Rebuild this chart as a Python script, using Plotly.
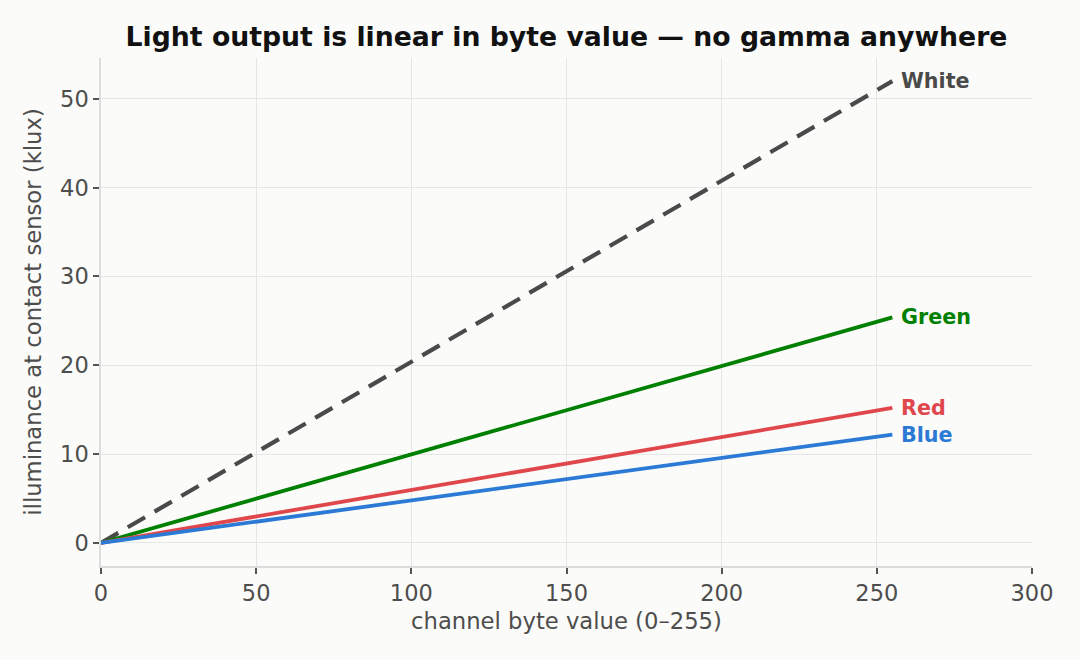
import plotly.graph_objects as go

byte_values = [0, 255]
white = [0, 52.0]
green = [0, 25.4]
red = [0, 15.2]
blue = [0, 12.2]
series_names = ["White", "Green", "Red", "Blue"]
series_values = [white, green, red, blue]
colors = ["#4a4a4a", "#008000", "#e0474c", "#2a7ad6"]
dashes = ["20px,11px", "solid", "solid", "solid"]
widths = [4.2, 3.8, 3.8, 3.8]

x_ticks = [0, 50, 100, 150, 200, 250, 300]
y_ticks = [0, 10, 20, 30, 40, 50]

fig = go.Figure()
for name, vals, c, d, w in zip(series_names, series_values, colors, dashes, widths):
    fig.add_trace(go.Scatter(x=byte_values, y=vals, mode="lines", name=name,
                             line=dict(color=c, width=w, dash=d), showlegend=False))
    fig.add_annotation(x=byte_values[-1], y=vals[-1], text=f"<b>{name}</b>", showarrow=False,
                       xanchor="left", yanchor="middle", xshift=7,
                       font=dict(color=c, size=20.7, family="DejaVu Sans"))

axis_common = dict(showgrid=True, gridcolor="#e6e6e6", gridwidth=1, zeroline=False,
                   showline=True, linecolor="#dddddd", linewidth=1.5,
                   ticks="outside", ticklen=6, tickwidth=1.5, tickcolor="#555555",
                   tickfont=dict(size=22.5, color="#4d4d4d", family="DejaVu Sans"))

fig.update_xaxes(range=[0, 300], tickvals=x_ticks,
                 title=dict(text="channel byte value (0–255)", font=dict(size=22.7, color="#4d4d4d", family="DejaVu Sans"), standoff=8),
                 **axis_common)
fig.update_yaxes(range=[-2.6, 54.6], tickvals=y_ticks,
                 title=dict(text="illuminance at contact sensor (klux)", font=dict(size=22.7, color="#4d4d4d", family="DejaVu Sans"), standoff=12),
                 **axis_common)

fig.update_layout(
    width=1080, height=660,
    paper_bgcolor="#fbfbf9", plot_bgcolor="#fbfbf9",
    margin=dict(l=101, r=48, t=58, b=94),
    title=dict(text="<b>Light output is linear in byte value — no gamma anywhere</b>",
               x=0.5, xref="paper", xanchor="center", y=0.944, yanchor="middle",
               font=dict(size=26.7, color="#111111", family="DejaVu Sans")),
    font=dict(family="DejaVu Sans"),
)

fig.write_html("out.html")
